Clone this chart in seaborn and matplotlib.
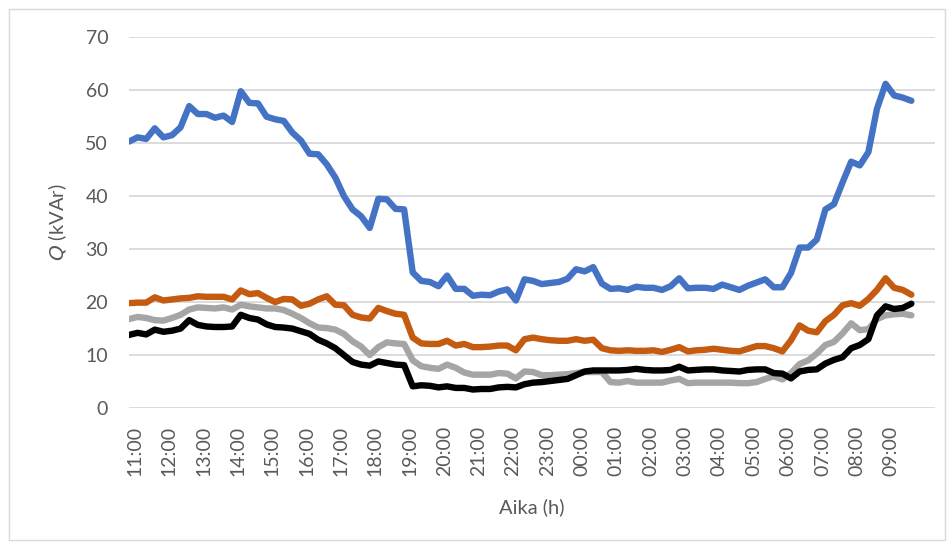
import pandas as pd
import seaborn as sns
import matplotlib.pyplot as plt
from matplotlib.patches import Rectangle

# 15 minute samples, first one at 10:50
start_time = "2021-01-01 10:50"
step = "15min"

q_blue = [50.3, 51.1, 50.8, 52.8, 51.1, 51.5, 53.0, 57.0, 55.5, 55.5,
          54.8, 55.2, 54.0, 59.8, 57.6, 57.5, 55.0, 54.5, 54.2, 52.0,
          50.5, 48.0, 47.9, 46.0, 43.5, 40.0, 37.5, 36.2, 34.0, 39.5,
          39.4, 37.6, 37.5, 25.6, 24.0, 23.8, 23.0, 25.0, 22.5, 22.5,
          21.2, 21.4, 21.3, 22.0, 22.4, 20.3, 24.3, 24.0, 23.4, 23.6,
          23.8, 24.4, 26.2, 25.8, 26.6, 23.5, 22.5, 22.6, 22.3, 22.9,
          22.7, 22.7, 22.3, 23.0, 24.5, 22.6, 22.7, 22.7, 22.5, 23.3,
          22.8, 22.3, 23.1, 23.7, 24.3, 22.8, 22.8, 25.5, 30.3, 30.3,
          31.8, 37.5, 38.5, 42.6, 46.5, 45.8, 48.3, 56.5, 61.2, 59.0,
          58.6, 58.0]

q_orange = [19.8, 19.9, 19.9, 20.9, 20.3, 20.5, 20.7, 20.8, 21.1, 21.0,
            21.0, 21.0, 20.5, 22.2, 21.5, 21.7, 20.8, 20.0, 20.6, 20.5,
            19.3, 19.7, 20.5, 21.1, 19.5, 19.4, 17.6, 17.1, 16.9, 18.9,
            18.3, 17.8, 17.6, 13.3, 12.2, 12.1, 12.1, 12.7, 11.8, 12.1,
            11.5, 11.5, 11.6, 11.8, 11.8, 10.9, 13.0, 13.3, 13.0, 12.8,
            12.7, 12.7, 13.0, 12.7, 12.9, 11.3, 10.9, 10.8, 10.9, 10.8,
            10.8, 10.9, 10.6, 11.0, 11.5, 10.7, 10.9, 11.0, 11.2, 11.0,
            10.8, 10.7, 11.2, 11.7, 11.7, 11.3, 10.7, 12.8, 15.6, 14.6,
            14.3, 16.4, 17.6, 19.4, 19.8, 19.3, 20.6, 22.3, 24.5, 22.7,
            22.3, 21.4]

q_gray = [16.8, 17.2, 17.0, 16.6, 16.5, 17.0, 17.6, 18.6, 19.0, 18.9,
          18.8, 19.0, 18.6, 19.5, 19.2, 19.0, 18.8, 18.8, 18.5, 17.8,
          17.0, 16.0, 15.2, 15.1, 14.8, 14.0, 12.6, 11.6, 10.0, 11.5,
          12.4, 12.2, 12.1, 9.0, 7.9, 7.6, 7.4, 8.2, 7.6, 6.7,
          6.3, 6.3, 6.3, 6.6, 6.5, 5.6, 6.9, 6.8, 6.2, 6.2,
          6.3, 6.4, 6.6, 6.8, 6.8, 6.8, 4.9, 4.8, 5.1, 4.8,
          4.8, 4.8, 4.8, 5.2, 5.5, 4.7, 4.8, 4.8, 4.8, 4.8,
          4.8, 4.7, 4.7, 4.9, 5.5, 6.0, 5.4, 6.6, 8.3, 9.0,
          10.3, 11.9, 12.5, 14.1, 16.0, 14.7, 14.9, 16.8, 17.5, 17.7,
          17.8, 17.5]

q_black = [13.8, 14.2, 13.9, 14.8, 14.4, 14.6, 15.0, 16.6, 15.7, 15.4,
           15.3, 15.3, 15.4, 17.6, 17.0, 16.7, 15.8, 15.3, 15.2, 15.0,
           14.5, 14.0, 12.9, 12.2, 11.3, 10.0, 8.7, 8.2, 8.0, 8.8,
           8.5, 8.2, 8.1, 4.1, 4.3, 4.2, 3.9, 4.1, 3.8, 3.8,
           3.5, 3.6, 3.6, 3.9, 4.0, 3.9, 4.5, 4.8, 4.9, 5.1,
           5.3, 5.5, 6.2, 6.9, 7.1, 7.1, 7.1, 7.1, 7.2, 7.4,
           7.2, 7.1, 7.1, 7.2, 7.8, 7.1, 7.2, 7.3, 7.3, 7.1,
           7.0, 6.9, 7.2, 7.3, 7.3, 6.6, 6.5, 5.6, 6.9, 7.2,
           7.3, 8.4, 9.1, 9.6, 11.3, 11.9, 13.0, 17.5, 19.2, 18.7,
           18.9, 19.7]

series_names = ["s1", "s2", "s3", "s4"]
series_colors = ["#4472C4", "#C55A11", "#A5A5A5", "#000000"]

tick_times = pd.date_range("2021-01-01 11:00", "2021-01-02 09:00", freq="h")


def build_frame():
    times = pd.date_range(start_time, periods=len(q_blue), freq=step)
    frames = []
    for name, vals in zip(series_names, [q_blue, q_orange, q_gray, q_black]):
        frames.append(pd.DataFrame({"time": times, "Q": vals, "series": name}))
    return pd.concat(frames, ignore_index=True)


def main():
    df = build_frame()

    sns.set_style("white")
    plt.rcParams["font.family"] = ["Lato", "DejaVu Sans"]
    # Lato has no italic here, so the italic Q comes from DejaVu
    plt.rcParams["mathtext.fontset"] = "custom"
    plt.rcParams["mathtext.rm"] = "Lato"
    plt.rcParams["mathtext.it"] = "DejaVu Sans:italic"

    fig = plt.figure(figsize=(9.52, 5.47), dpi=100)
    ax = fig.add_axes([0.1355, 0.254, 0.8465, 0.678])

    sns.lineplot(data=df, x="time", y="Q", hue="series",
                 palette=dict(zip(series_names, series_colors)),
                 linewidth=4.6, legend=False, ax=ax,
                 solid_capstyle="round", solid_joinstyle="round")

    ax.set_ylim(0, 70)
    ax.set_yticks(range(0, 71, 10))
    ax.set_xlim(pd.Timestamp("2021-01-01 10:50"), pd.Timestamp("2021-01-02 10:16"))
    ax.set_xticks(tick_times)
    ax.set_xticklabels([t.strftime("%H:%M") for t in tick_times], rotation=90)

    ax.grid(axis="y", color="#D9D9D9", linewidth=1.3)
    ax.set_axisbelow(True)
    for s in ax.spines.values():
        s.set_visible(False)
    ax.tick_params(axis="both", length=0, colors="#595959", labelsize=14)
    ax.tick_params(axis="y", pad=15)
    ax.tick_params(axis="x", pad=13)

    ax.set_ylabel("$\\it{Q}$ (kVAr)", fontsize=14.5, color="#595959", labelpad=12)
    ax.set_xlabel("Aika (h)", fontsize=14.5, color="#595959", labelpad=16)

    # chart area border
    fig.patches.append(Rectangle((0.009, 0.012), 0.984, 0.972, transform=fig.transFigure,
                                 fill=False, edgecolor="#D9D9D9", linewidth=1))

    fig.savefig("out.png", dpi=100)


if __name__ == "__main__":
    main()
